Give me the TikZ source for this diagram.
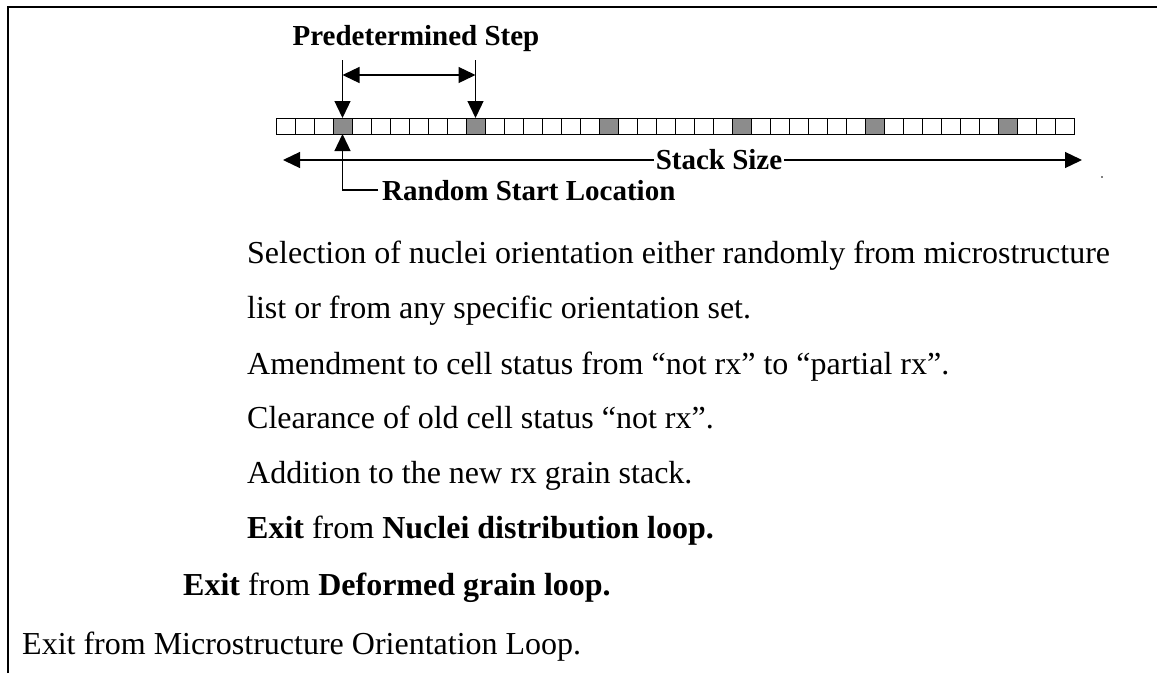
\documentclass[tikz,border=0pt]{standalone}
\usepackage{fontspec}
\setmainfont{Liberation Serif}
\usetikzlibrary{arrows.meta,calc}
\definecolor{cellgray}{RGB}{140,140,140}
\tikzset{
 cell/.style={draw=black, line width=0.9pt, minimum width=19pt, minimum height=16pt, inner sep=0pt, outer sep=0pt, anchor=north west, fill=white},
 graycell/.style={cell, fill=cellgray},
 arr/.style={line width=1.3pt, -{Triangle[length=17pt,width=16pt]}},
 darr/.style={line width=1.3pt, {Triangle[length=17pt,width=16pt]}-{Triangle[length=17pt,width=16pt]}},
 lbl/.style={font=\bfseries\fontsize{29}{34}\selectfont, inner sep=0pt},
 body/.style={font=\fontsize{32}{38}\selectfont, inner sep=0pt, anchor=base west},
 frame/.style={line width=2pt}
}
\begin{document}
\begin{tikzpicture}[x=1pt,y=-1pt]
\useasboundingbox (0,0) rectangle (1157,673);
% frame
\draw[frame] (8,673) -- (8,6.5) -- (1157,6.5);
% cell strip
\foreach \i in {0,...,41}{
  \pgfmathtruncatemacro\g{mod(\i+4,7)==0 ? 1 : 0}
  \ifnum\g=1
    \node[graycell] (c\i) at ({276+19*\i},118) {};
  \else
    \node[cell] (c\i) at ({276+19*\i},118) {};
  \fi
}
% predetermined step
\node[lbl, anchor=base] (ps) at (416,45) {Predetermined Step};
\coordinate (ytop) at (0,60);
\coordinate (ymid) at (0,75);
\coordinate (t1) at (c3.north |- ytop);
\coordinate (t2) at (c10.north |- ytop);
\coordinate (h1) at (c3.north |- ymid);
\coordinate (h2) at (c10.north |- ymid);
\draw[arr] (t1) -- (c3.north);
\draw[arr] (t2) -- (c10.north);
\draw[darr] (h1) -- (h2);
% stack size
\node[lbl, inner xsep=2pt] (ss) at (719,160) {Stack Size};
\coordinate (sl) at (283,160);
\coordinate (sr) at (1082,160);
\draw[arr] (ss.west) -- (sl);
\draw[arr] (ss.east) -- (sr);
\fill (1102,177) circle (0.9);
% random start location
\node[lbl, anchor=base west, inner xsep=4pt] (rsl) at (378,200) {Random Start Location};
\draw[arr] (rsl.west) -| (c3.south);
% body text
\node[body] (l1) at (247,263) {Selection of nuclei orientation either randomly from microstructure};
\node[body] (l2) at (247,318) {list or from any specific orientation set.};
\node[body] (l3) at (247,374) {Amendment to cell status from “not rx” to “partial rx”.};
\node[body] (l4) at (247,428) {Clearance of old cell status “not rx”.};
\node[body] (l5) at (247,483) {Addition to the new rx grain stack.};
\node[body] (l6) at (247,538) {\textbf{Exit} from \textbf{Nuclei distribution loop.}};
\node[body] (l7) at (183,595) {\textbf{Exit} from \textbf{Deformed grain loop.}};
\node[body] (l8) at (22,654) {Exit from Microstructure Orientation Loop.};
\end{tikzpicture}
\end{document}
